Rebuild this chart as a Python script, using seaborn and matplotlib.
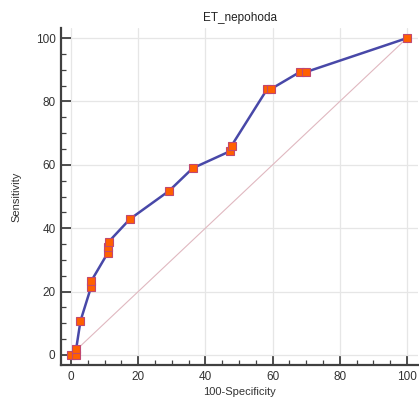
import matplotlib
matplotlib.use("Agg")
import matplotlib.pyplot as plt
import seaborn as sns
import pandas as pd
from matplotlib.ticker import MultipleLocator

fpr = [0, 1.5, 1.5, 2.8, 5.95, 5.95, 10.9, 10.9, 11.2, 17.5, 29.2, 36.2,
       47.3, 47.8, 58.4, 59.5, 68.1, 69.9, 100]
sens = [0, 0, 1.79, 10.71, 21.43, 23.21, 32.14, 33.93, 35.71, 42.86, 51.79,
        58.93, 64.29, 66.07, 83.93, 83.93, 89.29, 89.29, 100]
diag = [0, 100]
title = "ET_nepohoda"
xlabel = "100-Specificity"
ylabel = "Sensitivity"

sns.set_theme(style="white")
plt.rcParams['font.family'] = ['Liberation Sans', 'DejaVu Sans']

df = pd.DataFrame({"x": fpr, "y": sens})
ddf = pd.DataFrame({"x": diag, "y": diag})

fig = plt.figure(figsize=(4.19, 3.99), dpi=100)
ax = fig.add_axes([0.1456, 0.0852, 0.8520, 0.8446])

sns.lineplot(data=ddf, x="x", y="y", ax=ax, color="#e0b8c0", linewidth=0.8,
             sort=False, estimator=None, zorder=2)
sns.lineplot(data=df, x="x", y="y", ax=ax, color="#4848a8", linewidth=1.8,
             sort=False, estimator=None, marker="s", markersize=5.5,
             markerfacecolor="#ff6000", markeredgecolor="#c04870",
             markeredgewidth=0.8, zorder=3)

ax.set_xlim(-3, 103.3)
ax.set_ylim(-3.2, 103.2)
ax.xaxis.set_major_locator(MultipleLocator(20))
ax.yaxis.set_major_locator(MultipleLocator(20))
ax.xaxis.set_minor_locator(MultipleLocator(5))
ax.yaxis.set_minor_locator(MultipleLocator(5))
ax.grid(True, which="major", color="#e6e6e6", linewidth=0.9)
ax.set_axisbelow(True)

for s in ["top", "right"]:
    ax.spines[s].set_visible(False)
for s in ["left", "bottom"]:
    ax.spines[s].set_color("#404040")
    ax.spines[s].set_linewidth(1.6)

ax.tick_params(which="major", direction="in", length=7, width=1.3,
               color="#404040", labelsize=8.5, labelcolor="#333333", pad=4,
               left=True, bottom=True)
ax.tick_params(which="minor", direction="in", length=3.5, width=0.9,
               color="#404040", left=True, bottom=True)

ax.set_title(title, fontsize=8.5, color="#222222", pad=5)
ax.set_xlabel(xlabel, fontsize=8, color="#333333", labelpad=3)
ax.set_ylabel(ylabel, fontsize=8, color="#333333", labelpad=10)

fig.savefig("out.png", dpi=100, facecolor="white")
